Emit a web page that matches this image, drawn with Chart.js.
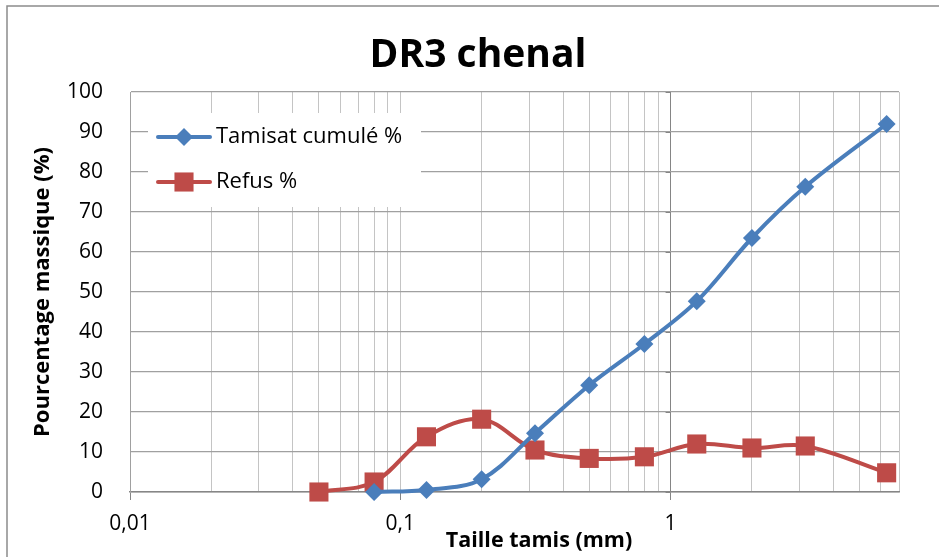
<!DOCTYPE html>
<html>
<head>
<meta charset="utf-8">
<script src="https://cdn.jsdelivr.net/npm/chart.js@4/dist/chart.umd.min.js"></script>
<style>
  html, body { margin: 0; background: #fff; }
</style>
</head>
<body>
<canvas id="chart" width="939" height="557"></canvas>
<script>
// sieve sizes (mm) and percentages
const tailles = [0.05, 0.08, 0.125, 0.2, 0.315, 0.5, 0.8, 1.25, 2, 3.15, 6.3];
const tamisat = [null, 0, 0.5, 3.2, 14.7, 26.7, 37, 47.7, 63.5, 76.3, 92];
const refus = [0, 2.5, 13.8, 18.2, 10.5, 8.4, 8.8, 12, 11, 11.5, 4.8];

// log grid lines + labelled decades
const xGrid = [0.01, 0.02, 0.03, 0.04, 0.05, 0.06, 0.07, 0.08, 0.09,
               0.1, 0.2, 0.3, 0.4, 0.5, 0.6, 0.7, 0.8, 0.9,
               1, 2, 3, 4, 5, 6, 7];
const xLabels = { 0.01: "0,01", 0.1: "0,1", 1: "1" };

const BLUE = "#4a7ebb";
const RED = "#be4b48";
const FONT = "'Open Sans', Lato, sans-serif";

function toPoints(xs, ys) {
  const pts = [];
  xs.forEach((x, i) => {
    if (ys[i] !== null) pts.push({ x: x, y: ys[i] });
  });
  return pts;
}

// frame, title, legend box and the little axis stubs
const decor = {
  id: "decor",
  beforeDraw(chart) {
    const ctx = chart.ctx;
    ctx.save();
    ctx.fillStyle = "#fff";
    ctx.fillRect(0, 0, chart.width, chart.height);
    ctx.strokeStyle = "#8c8c8c";
    ctx.lineWidth = 1.5;
    ctx.strokeRect(7, 6, 1000, 1000);
    ctx.restore();
  },
  beforeDatasetsDraw(chart) {
    const ctx = chart.ctx;
    const x = chart.scales.x, y = chart.scales.y;
    ctx.save();

    // stubs on the vertical axis crossing at 1
    const x1 = x.getPixelForValue(1);
    ctx.strokeStyle = "#858585";
    ctx.lineWidth = 1;
    y.ticks.forEach(t => {
      const py = Math.round(y.getPixelForValue(t.value)) + 0.5;
      ctx.beginPath();
      ctx.moveTo(x1 - 5, py);
      ctx.lineTo(x1, py);
      ctx.stroke();
    });

    // legend inside the plot
    ctx.fillStyle = "#fff";
    ctx.fillRect(148, 113, 273, 94);
    const items = [
      { label: "Tamisat cumulé %", ds: chart.data.datasets[0], y: 137 },
      { label: "Refus %", ds: chart.data.datasets[1], y: 182 }
    ];
    items.forEach(it => {
      ctx.strokeStyle = it.ds.borderColor;
      ctx.lineWidth = 4;
      ctx.lineCap = "round";
      ctx.beginPath();
      ctx.moveTo(158, it.y);
      ctx.lineTo(210, it.y);
      ctx.stroke();
      ctx.fillStyle = it.ds.backgroundColor;
      Chart.helpers.drawPoint(ctx, {
        pointStyle: it.ds.pointStyle,
        radius: it.ds.pointRadius,
        rotation: 0,
        borderWidth: 0
      }, 184, it.y);
      ctx.fillStyle = "#000";
      ctx.font = "22px " + FONT;
      ctx.textBaseline = "middle";
      ctx.textAlign = "left";
      ctx.fillText(it.label, 216, it.y);
    });
    ctx.restore();
  },
  afterDraw(chart) {
    const ctx = chart.ctx;
    ctx.save();
    ctx.fillStyle = "#000";
    ctx.textAlign = "center";
    ctx.textBaseline = "middle";
    ctx.font = "bold 39px " + FONT;
    ctx.fillText("DR3 chenal", 478, 56);
    ctx.font = "bold 21.5px " + FONT;
    ctx.fillText("Taille tamis (mm)", 539, 541);
    ctx.restore();
  }
};

const ctx = document.getElementById("chart").getContext("2d");
new Chart(ctx, {
  type: "line",
  data: {
    datasets: [
      {
        label: "Tamisat cumulé %",
        data: toPoints(tailles, tamisat),
        borderColor: BLUE,
        backgroundColor: BLUE,
        borderWidth: 4,
        pointStyle: "rectRot",
        pointRadius: 9,
        pointBorderWidth: 0,
        tension: 0.35,
        clip: false
      },
      {
        label: "Refus %",
        data: toPoints(tailles, refus),
        borderColor: RED,
        backgroundColor: RED,
        borderWidth: 4,
        pointStyle: "rect",
        pointRadius: 13.5,
        pointBorderWidth: 0,
        tension: 0.35,
        clip: false
      }
    ]
  },
  options: {
    responsive: false,
    animation: false,
    layout: { padding: { top: 92, right: 40, left: 0, bottom: 0 } },
    plugins: {
      legend: { display: false },
      title: { display: false },
      tooltip: { enabled: false }
    },
    scales: {
      x: {
        type: "logarithmic",
        min: 0.01,
        max: 7,
        afterBuildTicks: scale => {
          scale.ticks = xGrid.map(v => ({ value: v }));
        },
        afterFit: scale => { scale.height = 65; },
        ticks: {
          autoSkip: false,
          maxRotation: 0,
          padding: 11,
          color: "#000",
          font: { family: FONT, size: 21 },
          callback: value => {
            for (const k in xLabels) {
              if (Math.abs(value - Number(k)) < 1e-9) return xLabels[k];
            }
            return "";
          }
        },
        grid: {
          color: c => (c.tick && Math.abs(c.tick.value - 1) < 1e-9) ? "#858585" : "#c4c4c4",
          tickColor: c => (c.tick && xLabels[c.tick.value] !== undefined) ? "#858585" : "rgba(0,0,0,0)",
          tickLength: 8
        },
        border: { color: "#868686", width: 1.5 }
      },
      y: {
        min: 0,
        max: 100,
        afterFit: scale => { scale.width = 130; },
        ticks: {
          stepSize: 10,
          padding: 27,
          color: "#000",
          font: { family: FONT, size: 21 }
        },
        grid: { color: "#a0a0a0", lineWidth: 1.3, drawTicks: false },
        border: { color: "#a0a0a0" },
        title: {
          display: true,
          text: "Pourcentage massique (%)",
          color: "#000",
          font: { family: FONT, size: 22, weight: "bold" },
          padding: { top: 30, bottom: 0 }
        }
      }
    }
  },
  plugins: [decor]
});
</script>
</body>
</html>
